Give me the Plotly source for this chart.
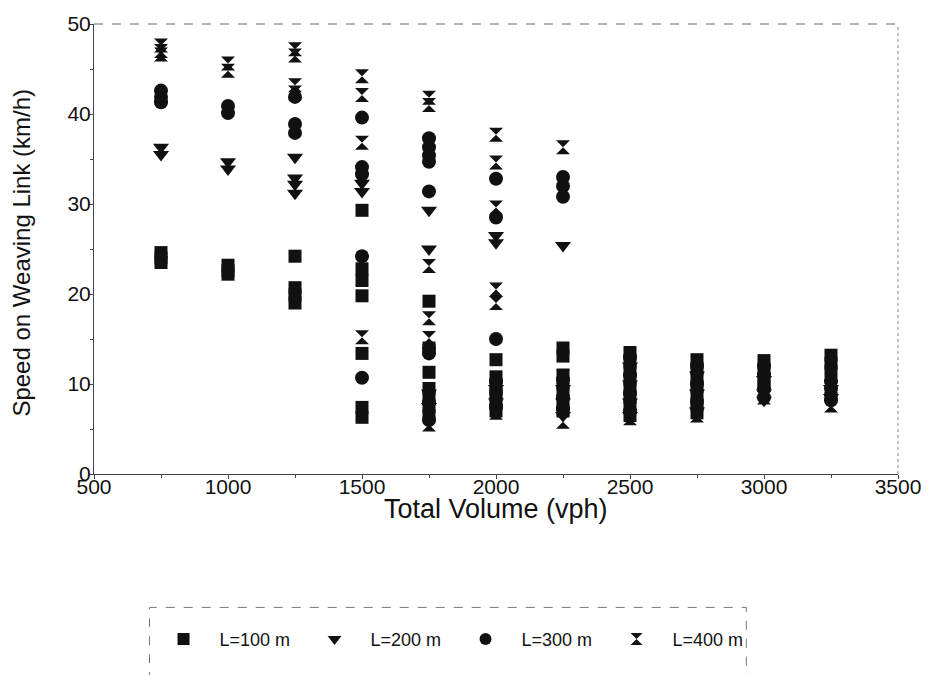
import plotly.graph_objects as go

# Total volume columns (vph)
volumes = [750, 1000, 1250, 1500, 1750, 2000, 2250, 2500, 2750, 3000, 3250]

# Speed on weaving link (km/h) observed at each volume, per weaving length
speed_L100 = [
    [24.6, 24.0, 23.5],
    [23.2, 22.6, 22.2],
    [24.2, 20.7, 19.9, 19.0],
    [29.3, 22.8, 21.5, 19.8, 13.4, 7.4, 6.3],
    [19.2, 14.0, 11.3, 9.5, 8.5, 7.5, 6.5],
    [12.7, 10.8, 9.8, 8.8, 7.8, 7.0],
    [14.0, 13.1, 11.0, 10.0, 9.0, 8.0, 7.0],
    [13.5, 12.5, 11.5, 10.5, 9.5, 8.5, 7.5, 6.5],
    [12.7, 11.7, 10.7, 9.7, 8.7, 7.7, 6.8],
    [12.6, 11.6, 10.6, 9.8],
    [13.2, 12.3, 11.4],
]
speed_L200 = [
    [36.3, 35.5],
    [34.7, 33.9],
    [35.2, 32.9, 32.2, 31.2],
    [32.3, 31.4],
    [29.3, 25.0, 9.0, 7.5],
    [26.5, 25.7, 9.5, 8.0],
    [25.4, 9.5, 8.0, 6.5],
    [12.0, 10.0, 8.0, 6.5],
    [11.0, 9.0, 7.0],
    [10.5, 9.0, 8.2],
    [9.5, 8.5],
]
speed_L300 = [
    [42.6, 41.9, 41.3],
    [40.9, 40.1],
    [41.9, 38.9, 37.9],
    [39.6, 34.1, 33.3, 24.2, 10.7],
    [37.3, 36.3, 35.4, 34.7, 31.4, 14.0, 13.4, 8.0, 6.0],
    [32.8, 28.5, 15.0, 10.3, 9.0, 7.5],
    [33.0, 32.0, 30.8, 10.5, 8.5, 7.2],
    [13.0, 11.0, 9.0, 7.0],
    [12.0, 10.0, 8.0],
    [12.0, 11.0, 9.5, 8.5],
    [10.3, 9.5, 8.8, 8.2],
]
speed_L400 = [
    [47.6, 47.0, 46.6],
    [45.6, 44.8],
    [47.2, 46.5, 43.2, 42.4],
    [44.2, 42.1, 36.8, 15.2],
    [41.8, 41.0, 23.1, 17.3, 15.1, 5.5],
    [37.7, 34.6, 29.6, 20.5, 19.0, 6.8],
    [36.3, 10.8, 5.8],
    [12.5, 6.2],
    [6.5],
    [8.5],
    [7.6],
]

series_names = ["L=100 m", "L=200 m", "L=300 m", "L=400 m"]
series_data = [speed_L100, speed_L200, speed_L300, speed_L400]
series_symbols = ["square", "triangle-down", "circle", "hourglass"]
series_sizes = [13, 14, 14, 14]

FONT = "Liberation Sans, Arial, sans-serif"

fig = go.Figure()
for name, data, sym, size in zip(series_names, series_data, series_symbols, series_sizes):
    xs, ys = [], []
    for vol, speeds in zip(volumes, data):
        for s in speeds:
            xs.append(vol)
            ys.append(s)
    fig.add_trace(go.Scatter(
        x=xs, y=ys, mode="markers", name=name,
        marker=dict(symbol=sym, size=size, color="#111111",
                    line=dict(width=0)),
    ))

# Plot area geometry in pixels
W, H = 933, 675
ML, MR, MT, MB = 94, 28, 22, 201
pw = W - ML - MR
ph = H - MT - MB

def px_to_paper_x(px):
    return (px - ML) / pw

def px_to_paper_y(py):
    return (H - MB - py) / ph

# Dashed top and right frame of the plot area
fig.add_shape(type="line", xref="paper", yref="paper", x0=0, x1=1, y0=1, y1=1,
              line=dict(color="#666666", width=1, dash="dash"))
fig.add_shape(type="line", xref="paper", yref="paper", x0=1, x1=1, y0=0, y1=1,
              line=dict(color="#888888", width=1, dash="dot"))

# Legend frame
fig.add_shape(type="rect", xref="paper", yref="paper",
              x0=px_to_paper_x(150), x1=px_to_paper_x(752),
              y0=px_to_paper_y(700), y1=px_to_paper_y(608),
              line=dict(color="#777777", width=1, dash="dash"),
              fillcolor="rgba(0,0,0,0)")

# Axis titles
fig.add_annotation(text="Total Volume (vph)", xref="paper", yref="paper",
                   x=px_to_paper_x(500), y=px_to_paper_y(509),
                   xanchor="center", yanchor="middle", showarrow=False,
                   font=dict(family=FONT, size=27, color="#111111"))
fig.add_annotation(text="Speed on Weaving Link (km/h)", xref="paper", yref="paper",
                   x=px_to_paper_x(21), y=px_to_paper_y(252), textangle=-90,
                   xanchor="center", yanchor="middle", showarrow=False,
                   font=dict(family=FONT, size=24, color="#111111"))

fig.update_layout(
    width=W, height=H,
    margin=dict(l=ML, r=MR, t=MT, b=MB),
    paper_bgcolor="white", plot_bgcolor="white",
    showlegend=True,
    legend=dict(
        orientation="h",
        x=px_to_paper_x(148), xanchor="left",
        y=px_to_paper_y(640), yanchor="middle",
        font=dict(family=FONT, size=18, color="#111111"),
        bgcolor="rgba(0,0,0,0)",
        itemwidth=62,
        entrywidth=74, entrywidthmode="pixels",
        itemsizing="constant",
    ),
    xaxis=dict(
        range=[500, 3500], dtick=500, tick0=500,
        showgrid=False, zeroline=False,
        showline=True, linecolor="#444444", linewidth=1,
        ticks="outside", ticklen=4, tickcolor="#444444",
        minor=dict(dtick=250, ticks="outside", ticklen=3, tickcolor="#444444", showgrid=False),
        tickfont=dict(family=FONT, size=21, color="#111111"),
        ticklabelstandoff=-10, ticklabeloverflow="allow",
    ),
    yaxis=dict(
        range=[0, 50], dtick=10,
        showgrid=False, zeroline=False,
        showline=True, linecolor="#444444", linewidth=1,
        ticks="outside", ticklen=4, tickcolor="#444444",
        minor=dict(dtick=5, ticks="outside", ticklen=3, tickcolor="#444444", showgrid=False),
        tickfont=dict(family=FONT, size=21, color="#111111"),
        ticklabelstandoff=-6,
    ),
)

fig.write_html("out.html")
